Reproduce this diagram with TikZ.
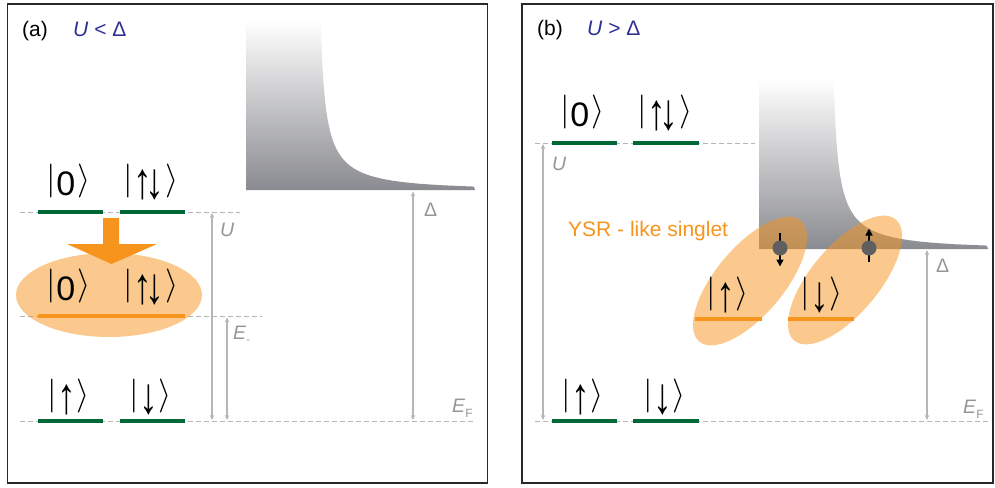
\documentclass[tikz,border=0pt]{standalone}
\usepackage{graphicx}
\usepackage{fontspec}
\setmainfont{Liberation Sans}
\usetikzlibrary{arrows.meta,shapes.geometric}
\definecolor{lvgreen}{RGB}{0,104,55}
\definecolor{lvorange}{RGB}{247,148,29}
\definecolor{titleblue}{RGB}{46,49,146}
\definecolor{guidegray}{RGB}{182,182,182}
\definecolor{labelgray}{RGB}{150,150,150}
\definecolor{dosgray}{RGB}{138,139,144}
\definecolor{dotgray}{RGB}{95,95,95}
\definecolor{framegray}{RGB}{40,40,40}
\newcommand{\kbar}{\raisebox{5.5pt}{\scalebox{3.4}{\fontsize{10}{12}\selectfont$\vert$}}}
\newcommand{\kang}{\raisebox{5.5pt}{\scalebox{3.4}{\fontsize{10}{12}\selectfont$\rangle$}}}
\newcommand{\kup}{\raisebox{-3pt}{\scalebox{1.1}[1.5]{↑}}}
\newcommand{\kdn}{\raisebox{-3pt}{\scalebox{1.1}[1.5]{↓}}}
\newcommand{\dospath}{(246,20) -- plot[domain=170:3.4, samples=120] ({318+72*((1+\x/63)/sqrt((1+\x/63)^2-1)-1)}, {190-\x}) -- (475,190) -- (246,190) -- cycle}
\begin{document}
\begin{tikzpicture}[x=1pt,y=-1pt,
  frame/.style={line width=1.3pt, draw=framegray},
  lvl/.style={line width=4.5pt, lvgreen},
  olvl/.style={line width=4.5pt, lvorange},
  guide/.style={dash pattern=on 5pt off 3pt, line width=1pt, guidegray},
  meas/.style={{Stealth[length=5pt,width=4.5pt]}-{Stealth[length=5pt,width=4.5pt]}, line width=1.2pt, guidegray},
  ket/.style={font=\fontsize{34}{34}\selectfont, inner sep=0pt, anchor=base},
  lbl/.style={font=\fontsize{19.5}{19.5}\selectfont, text=labelgray, inner sep=0pt, anchor=base west},
  ttl/.style={font=\fontsize{21}{21}\selectfont, inner sep=0pt, anchor=base west},
  blob/.style={ellipse, fill=lvorange, fill opacity=0.5, inner sep=0pt},
  dot/.style={circle, fill=dotgray, minimum size=15pt, inner sep=0pt},
  spin/.style={-{Triangle[length=7pt,width=7pt]}, line width=1.5pt, black}]
\useasboundingbox (0,0) rectangle (995,487);
% frames
\draw[frame] (7.5,4) rectangle (487.5,483);
\draw[frame] (522,4) rectangle (993,483);
% densities of states
\shade[top color=white, bottom color=dosgray] \dospath;
\begin{scope}[shift={(513,59)}]
\shade[top color=white, bottom color=dosgray] \dospath;
\end{scope}
% guide lines (a)
\draw[guide] (20,212) -- (240,212);
\draw[guide] (20,316.5) -- (262,316.5);
\draw[guide] (20,421) -- (473,421);
% guide lines (b)
\draw[guide] (535,143) -- (755,143);
\draw[guide] (535,421) -- (990,421);
% measurement coordinates
\coordinate (aUt) at (212,213);   \coordinate (aUb) at (212,420);
\coordinate (aEt) at (227,317.5); \coordinate (aEb) at (227,420);
\coordinate (aDt) at (413,191.5); \coordinate (aDb) at (413,420);
\coordinate (bUt) at (543,144);   \coordinate (bUb) at (543,420);
\coordinate (bDt) at (927,250);   \coordinate (bDb) at (927,420);
\draw[meas] (aUt) -- (aUb);
\draw[meas] (aEt) -- (aEb);
\draw[meas] (aDt) -- (aDb);
\draw[meas] (bUt) -- (bUb);
\draw[meas] (bDt) -- (bDb);
% levels (a)
\draw[lvl] (38,212) -- (102.5,212);
\draw[lvl] (119.5,212) -- (185,212);
\draw[lvl] (38,421) -- (102.5,421);
\draw[lvl] (119.5,421) -- (185,421);
% levels (b)
\draw[lvl] (552,143) -- (617,143);
\draw[lvl] (633,143) -- (699,143);
\draw[lvl] (552,421) -- (617,421);
\draw[lvl] (633,421) -- (699,421);
% orange arrow (a)
\fill[lvorange] (103,218) -- (119,218) -- (119,244) -- (157,244) -- (111.5,264) -- (67,244) -- (103,244) -- cycle;
% ellipses
\node[blob, minimum width=186pt, minimum height=84pt] (ea) at (109,295) {};
\node[blob, minimum width=158pt, minimum height=68pt, rotate=50] (eb1) at (750,281) {};
\node[blob, minimum width=158pt, minimum height=68pt, rotate=50] (eb2) at (845,280) {};
% orange levels
\draw[olvl] (38,316) -- (185,316);
\draw[olvl] (695,319) -- (762,319);
\draw[olvl] (788,319) -- (854,319);
% kets (a)
\node[ket] (ka1) at (69,195) {\kbar 0\kern2.5pt\kang};
\node[ket] (ka2) at (151,195) {\kbar\kern0.5pt\kup\kern-6.5pt\kdn\kern0.5pt\kang};
\node[ket] (ka3) at (69,300) {\kbar 0\kern2.5pt\kang};
\node[ket] (ka4) at (151,300) {\kbar\kern0.5pt\kup\kern-6.5pt\kdn\kern0.5pt\kang};
\node[ket] (ka5) at (69,410) {\kbar\kern0.5pt\kup\kern0.5pt\kang};
\node[ket] (ka6) at (151,410) {\kbar\kern0.5pt\kdn\kern0.5pt\kang};
% kets (b)
\node[ket] (kb1) at (583,126) {\kbar 0\kern2.5pt\kang};
\node[ket] (kb2) at (665,126) {\kbar\kern0.5pt\kup\kern-6.5pt\kdn\kern0.5pt\kang};
\node[ket] (kb3) at (728,308) {\kbar\kern0.5pt\kup\kern0.5pt\kang};
\node[ket] (kb4) at (822,308) {\kbar\kern0.5pt\kdn\kern0.5pt\kang};
\node[ket] (kb5) at (583,410) {\kbar\kern0.5pt\kup\kern0.5pt\kang};
\node[ket] (kb6) at (665,410) {\kbar\kern0.5pt\kdn\kern0.5pt\kang};
% spins on the dots (b)
\coordinate (s1a) at (780,233); \coordinate (s1b) at (780,266.5);
\coordinate (s2a) at (869,262); \coordinate (s2b) at (869,228.5);
\draw[spin] (s1a) -- (s1b);
\draw[spin] (s2a) -- (s2b);
\node[dot] (d1) at (780,248) {};
\node[dot] (d2) at (869,248) {};
% titles
\node[ttl] (ta) at (22,37) {(a)};
\node[ttl, text=titleblue] (tua) at (73,37) {\textit{U} < Δ};
\node[ttl] (tb) at (537,36) {(b)};
\node[ttl, text=titleblue] (tub) at (587,36) {\textit{U} > Δ};
% labels
\node[lbl] (lUa) at (220,236.7) {\textit{U}};
\node[lbl] (lEa) at (233,339.3) {\textit{E}\raisebox{-4pt}{\fontsize{11}{11}\selectfont -}};
\node[lbl] (lDa) at (424,216.7) {Δ};
\node[lbl] (lFa) at (452,412.3) {\textit{E}\raisebox{-5pt}{\fontsize{12}{12}\selectfont F}};
\node[lbl] (lUb) at (552,170) {\textit{U}};
\node[lbl] (lDb) at (936,272.7) {Δ};
\node[lbl] (lFb) at (963,413.3) {\textit{E}\raisebox{-5pt}{\fontsize{12}{12}\selectfont F}};
\node[lbl, text=lvorange, font=\fontsize{21}{21}\selectfont] (ysr) at (568,236) {YSR - like singlet};
\end{tikzpicture}
\end{document}
